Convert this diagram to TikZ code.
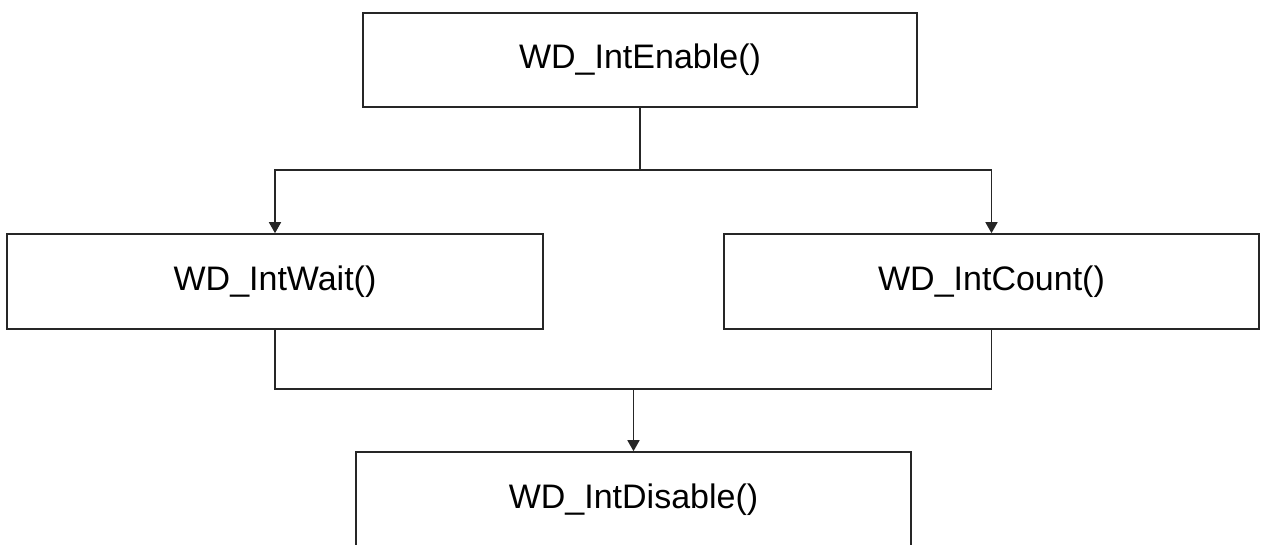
\documentclass[tikz,border=0pt]{standalone}
\usepackage{fontspec}
\setmainfont{Liberation Sans}
\usetikzlibrary{arrows.meta}
\begin{document}
\begin{tikzpicture}[x=1pt,y=-1pt,
  fnbox/.style={draw=black!85, line width=1.6pt, fill=white, inner sep=0pt,
    font=\fontsize{34}{40}\selectfont},
  conn/.style={draw=black!85, line width=1.6pt},
  arr/.style={conn, -{Triangle[width=12pt,length=11pt]}}]
\useasboundingbox (0,0) rectangle (1261,545);
\node[fnbox, minimum width=554pt, minimum height=94pt] (en) at (640,60) {WD\_IntEnable()};
\node[fnbox, minimum width=536pt, minimum height=95pt] (wait) at (275,281.5) {WD\_IntWait()};
\node[fnbox, minimum width=535pt, minimum height=95pt] (count) at (991.5,281.5) {WD\_IntCount()};
\node[fnbox, minimum width=555pt, minimum height=95pt] (dis) at (633.5,499.5) {WD\_IntDisable()};
\coordinate (j1) at (640,170);
\coordinate (j2) at (633.5,389);
\draw[conn] (en.south) -- (j1);
\draw[arr] (j1) -| (wait.north);
\draw[arr] (j1) -| (count.north);
\draw[conn] (wait.south) |- (j2);
\draw[conn] (count.south) |- (j2);
\draw[arr] (j2) -- (dis.north);
\end{tikzpicture}
\end{document}
